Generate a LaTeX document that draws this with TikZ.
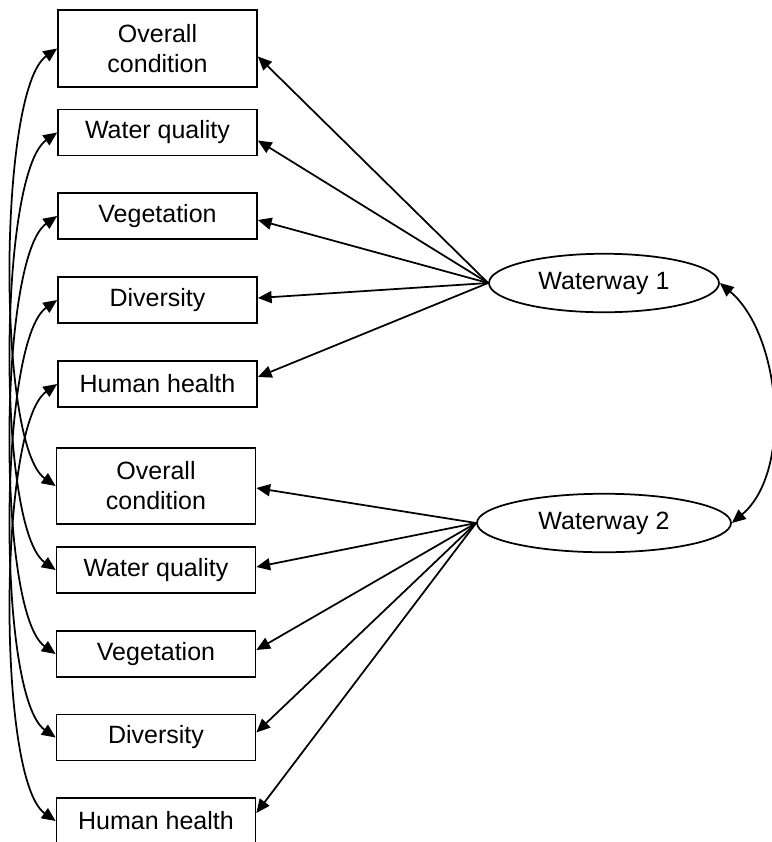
\documentclass[tikz,border=0pt]{standalone}
\usepackage{fontspec}
\setmainfont{Liberation Sans}
\usepackage{tikz}
\usetikzlibrary{shapes.geometric,arrows.meta,calc}
\tikzstyle{indicator} = [draw, rectangle, line width=0.7pt, minimum width=79.6pt, minimum height=18.4pt, inner sep=0pt, align=center, font=\fontsize{10}{12}\selectfont]
\tikzstyle{twoline} = [indicator, minimum height=30.6pt]
\tikzstyle{waterway} = [draw, ellipse, line width=0.7pt, minimum height=23.4pt, inner sep=0pt, font=\fontsize{10}{12}\selectfont]
\tikzstyle{loading} = [line width=0.7pt, -{Triangle[length=5.5pt,width=4.8pt]}]
\tikzstyle{covar} = [line width=0.7pt, {Triangle[length=5.5pt,width=4.8pt]}-{Triangle[length=5.5pt,width=4.8pt]}]

\begin{document}
\begin{tikzpicture}[x=0.4pt,y=0.4pt]
\useasboundingbox (0,0) rectangle (772,-842);

\node [twoline] (ov1) at (157.5,-48.5) {Overall\\condition};
\node [indicator] (wq1) at (157.5,-132.5) {Water quality};
\node [indicator] (veg1) at (157.5,-216) {Vegetation};
\node [indicator] (div1) at (157.5,-300) {Diversity};
\node [indicator] (hh1) at (157.5,-384) {Human health};

\node [twoline] (ov2) at (156,-486) {Overall\\condition};
\node [indicator] (wq2) at (156,-570) {Water quality};
\node [indicator] (veg2) at (156,-654) {Vegetation};
\node [indicator] (div2) at (156,-737.5) {Diversity};
\node [indicator] (hh2) at (156,-821) {Human health};

\node [waterway, minimum width=92pt] (w1) at (604,-283) {Waterway 1};
\node [waterway, minimum width=101.6pt] (w2) at (604,-523) {Waterway 2};

\draw [loading] (w1.west) -- ($(ov1.east)+(0,-8)$);
\draw [loading] (w1.west) -- ($(wq1.east)+(0,-8)$);
\draw [loading] (w1.west) -- ($(veg1.east)+(0,-4)$);
\draw [loading] (w1.west) -- ($(div1.east)+(0,2)$);
\draw [loading] (w1.west) -- ($(hh1.east)+(0,7)$);

\draw [loading] (w2.west) -- ($(ov2.east)+(0,-2)$);
\draw [loading] (w2.west) -- ($(wq2.east)+(0,3)$);
\draw [loading] (w2.west) -- ($(veg2.east)+(0,4)$);
\draw [loading] (w2.west) -- ($(div2.east)+(0,5)$);
\draw [loading] (w2.west) -- ($(hh2.east)+(0,8)$);

\draw [covar] (ov1.west) to[out=215,in=145,looseness=0.42] (ov2.west);
\draw [covar] (wq1.west) to[out=215,in=145,looseness=0.42] (wq2.west);
\draw [covar] (veg1.west) to[out=215,in=145,looseness=0.42] (veg2.west);
\draw [covar] (div1.west) to[out=215,in=145,looseness=0.42] (div2.west);
\draw [covar] (hh1.west) to[out=215,in=145,looseness=0.42] (hh2.west);

\draw [covar] (w1.east) to[out=-40,in=40,looseness=0.85] (w2.east);
\end{tikzpicture}
\end{document}
